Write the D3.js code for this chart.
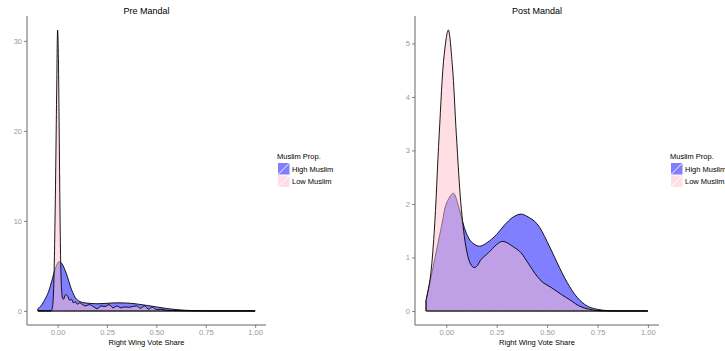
<!DOCTYPE html>
<html>
<head>
<meta charset="utf-8">
<script src="https://cdn.jsdelivr.net/npm/d3@7"></script>
<style>
  html, body { margin: 0; padding: 0; background: #fff; }
  svg { display: block; font-family: "Liberation Sans", Arial, sans-serif; }
</style>
</head>
<body>
<svg id="chart" width="725" height="351"></svg>
<script>
// Kernel density estimates of right-wing vote share, by Muslim proportion.
const groups = ["High Muslim", "Low Muslim"];
const xTicks = [0, 0.25, 0.5, 0.75, 1];

// Pre Mandal
const preHighX = [-0.1, -0.085, -0.064, -0.045, -0.03, -0.01, 0.008, 0.02, 0.045, 0.07, 0.096, 0.13, 0.16, 0.2, 0.25, 0.3, 0.35, 0.4, 0.45, 0.5, 0.55, 0.6, 0.65, 0.7, 0.75, 0.8, 0.9, 1.0];
const preHighY = [0.25, 0.55, 1.3, 2.2, 3.3, 4.8, 5.5, 5.3, 4.1, 2.4, 1.3, 0.93, 0.85, 0.8, 0.85, 0.9, 0.88, 0.78, 0.62, 0.45, 0.28, 0.15, 0.07, 0.03, 0.01, 0, 0, 0];
const preLowX = [-0.1, -0.035, -0.03, -0.025, -0.02, -0.015, -0.01, -0.005, 0, 0.004, 0.008, 0.012, 0.016, 0.02, 0.025, 0.03, 0.04, 0.05, 0.06, 0.07, 0.08, 0.09, 0.1, 0.11, 0.12, 0.14, 0.16, 0.18, 0.2, 0.22, 0.24, 0.26, 0.28, 0.3, 0.32, 0.34, 0.36, 0.38, 0.4, 0.42, 0.44, 0.46, 0.48, 0.5, 0.52, 0.55, 0.58, 0.62, 0.7, 1.0];
const preLowY = [0, 0, 0.1, 0.6, 2.5, 7.5, 15, 24, 31.2, 28, 20, 11, 5, 2.4, 1.4, 1.3, 1.8, 1.7, 1.2, 1.3, 0.9, 1.0, 0.75, 0.9, 0.8, 0.55, 0.7, 0.5, 0.25, 0.55, 0.5, 0.7, 0.35, 0.55, 0.35, 0.45, 0.4, 0.5, 0.55, 0.3, 0.55, 0.2, 0.4, 0.15, 0.2, 0.08, 0.05, 0.02, 0, 0];
const preYTicks = [0, 10, 20, 30];

// Post Mandal
const postHighX = [-0.1, -0.08, -0.05, -0.02, 0, 0.035, 0.06, 0.08, 0.1, 0.125, 0.164, 0.2, 0.25, 0.29, 0.33, 0.37, 0.4, 0.45, 0.5, 0.55, 0.6, 0.65, 0.7, 0.75, 0.8, 0.85, 1.0];
const postHighY = [0.2, 0.55, 1.1, 1.65, 2.0, 2.2, 1.97, 1.68, 1.45, 1.29, 1.21, 1.27, 1.43, 1.61, 1.75, 1.81, 1.77, 1.63, 1.3, 0.9, 0.53, 0.25, 0.09, 0.03, 0.005, 0, 0];
const postLowX = [-0.1, -0.08, -0.06, -0.035, -0.01, 0.01, 0.03, 0.05, 0.075, 0.1, 0.12, 0.138, 0.155, 0.17, 0.21, 0.25, 0.28, 0.34, 0.37, 0.41, 0.45, 0.48, 0.52, 0.57, 0.62, 0.66, 0.71, 0.75, 0.8, 1.0];
const postLowY = [0.2, 0.6, 1.46, 3.3, 4.8, 5.25, 4.6, 3.3, 1.9, 1.15, 0.88, 0.81, 0.85, 0.95, 1.09, 1.24, 1.3, 1.18, 1.09, 0.87, 0.65, 0.53, 0.44, 0.31, 0.19, 0.09, 0.03, 0.005, 0, 0];
const postYTicks = [0, 1, 2, 3, 4, 5];

const fills = { "High Muslim": "#0000FF", "Low Muslim": "#FFC0CB" };

const svg = d3.select("#chart");

const panels = [
  {
    title: "Pre Mandal",
    left: 27, right: 266, top: 16, bottom: 325,
    yTicks: preYTicks,
    curve: d3.curveMonotoneX,
    series: [
      { name: "High Muslim", x: preHighX, y: preHighY },
      { name: "Low Muslim", x: preLowX, y: preLowY }
    ],
    legendX: 277
  },
  {
    title: "Post Mandal",
    left: 415, right: 659, top: 16, bottom: 325,
    yTicks: postYTicks,
    curve: d3.curveCatmullRom.alpha(0.5),
    series: [
      { name: "High Muslim", x: postHighX, y: postHighY },
      { name: "Low Muslim", x: postLowX, y: postLowY }
    ],
    legendX: 670
  }
];

panels.forEach(p => {
  const allY = p.series.flatMap(s => s.y);
  const yMax = d3.max(allY);
  const x = d3.scaleLinear().domain([-0.1 - 0.055, 1 + 0.055]).range([p.left, p.right]);
  const y = d3.scaleLinear().domain([-0.05 * yMax, yMax * 1.05]).range([p.bottom, p.top]);

  const g = svg.append("g");

  // density areas: High first, Low on top
  const area = d3.area()
    .x(d => x(d[0]))
    .y0(y(0))
    .y1(d => y(Math.max(0, d[1])))
    .curve(p.curve);

  p.series.forEach(s => {
    const pts = s.x.map((v, i) => [v, s.y[i]]);
    g.append("path")
      .attr("d", area(pts) + "Z")
      .attr("fill", fills[s.name])
      .attr("fill-opacity", 0.5)
      .attr("stroke", "#000")
      .attr("stroke-width", 0.9)
      .attr("stroke-linejoin", "round");
  });

  // axes
  const axisColor = "#666";
  const tickColor = "#999";

  const yAxis = g.append("g")
    .attr("transform", `translate(${p.left},0)`)
    .call(d3.axisLeft(y).tickValues(p.yTicks).tickSize(3).tickPadding(2).tickFormat(d3.format("d")));
  const xAxis = g.append("g")
    .attr("transform", `translate(0,${p.bottom})`)
    .call(d3.axisBottom(x).tickValues(xTicks).tickSize(3).tickPadding(2).tickFormat(d3.format(".2f")));

  [xAxis, yAxis].forEach(ax => {
    ax.select(".domain").attr("stroke", axisColor).attr("stroke-width", 1);
    ax.selectAll(".tick line").attr("stroke", axisColor).attr("stroke-width", 0.8);
    ax.selectAll(".tick text")
      .attr("fill", tickColor)
      .style("font-family", "'Liberation Sans', Arial, sans-serif")
      .style("font-size", "7.5px");
  });
  xAxis.select(".domain").attr("d", `M${p.left},0H${p.right}`);
  yAxis.select(".domain").attr("d", `M0,${p.top}V${p.bottom}`);

  // titles
  const cx = (p.left + p.right) / 2;
  g.append("text")
    .attr("x", cx).attr("y", 14)
    .attr("text-anchor", "middle")
    .style("font-size", "9px")
    .attr("fill", "#000")
    .text(p.title);
  g.append("text")
    .attr("x", cx).attr("y", 345)
    .attr("text-anchor", "middle")
    .style("font-size", "7.5px")
    .attr("fill", "#000")
    .text("Right Wing Vote Share");

  // legend
  const lg = svg.append("g").attr("transform", `translate(${p.legendX},0)`);
  lg.append("text")
    .attr("x", 0).attr("y", 158.5)
    .style("font-size", "7.5px")
    .attr("fill", "#000")
    .text("Muslim Prop.");
  groups.forEach((name, i) => {
    const ky = 163 + i * 12.5;
    lg.append("rect")
      .attr("x", 1).attr("y", ky)
      .attr("width", 11.5).attr("height", 11.5)
      .attr("fill", fills[name])
      .attr("fill-opacity", 0.5);
    lg.append("line")
      .attr("x1", 1).attr("y1", ky + 11.5)
      .attr("x2", 12.5).attr("y2", ky)
      .attr("stroke", "#fff")
      .attr("stroke-width", 0.9);
    lg.append("text")
      .attr("x", 15).attr("y", ky + 8.8)
      .style("font-size", "7.5px")
      .attr("fill", "#000")
      .text(name);
  });
});
</script>
</body>
</html>
